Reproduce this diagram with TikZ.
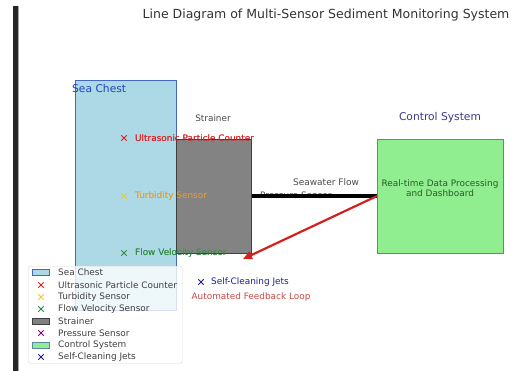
\documentclass[tikz,border=0pt]{standalone}
\usepackage{fontspec}
\setmainfont{DejaVu Sans}
\usetikzlibrary{shapes.misc,arrows.meta}
\definecolor{seafill}{HTML}{ADD8E6}
\definecolor{seaedge}{HTML}{4466C8}
\definecolor{seatext}{HTML}{2244C0}
\definecolor{strfill}{HTML}{808080}
\definecolor{stredge}{HTML}{404040}
\definecolor{ctlfill}{HTML}{90EE90}
\definecolor{ctledge}{HTML}{5A86A8}
\definecolor{ctltext}{HTML}{3A3A8C}
\definecolor{inntext}{HTML}{2A5A2A}
\definecolor{ured}{HTML}{D62020}
\definecolor{turbm}{HTML}{E8C840}
\definecolor{turbt}{HTML}{E8A030}
\definecolor{flowg}{HTML}{2E8B3E}
\definecolor{presp}{HTML}{800080}
\definecolor{jetn}{HTML}{1E1E90}
\definecolor{fbred}{HTML}{C84848}
\tikzset{
  mk/.style={cross out, draw=#1, line width=0.9pt, minimum size=4.5pt, inner sep=0pt},
  lbl/.style={font=\fontsize{8.9}{10}\selectfont, inner sep=0pt, anchor=west},
  big/.style={font=\fontsize{10.7}{12}\selectfont, inner sep=0pt},
  leg/.style={font=\fontsize{8.9}{10}\selectfont, inner sep=0pt, anchor=west, text=black!75},
  patch/.style={minimum width=17pt, minimum height=6pt, inner sep=0pt, line width=0.8pt}
}
\begin{document}
\begin{tikzpicture}[x=1pt,y=-1pt]
\useasboundingbox (0,0) rectangle (513,371);
\fill[white] (0,0) rectangle (513,371);
% left bar
\fill[black!85] (13,6) rectangle (18,371);
\fill[black!35] (18,6) rectangle (19,371);
% title
\node[font=\fontsize{12.5}{14}\selectfont, text=black!80, inner sep=0pt] (title) at (326,15) {Line Diagram of Multi-Sensor Sediment Monitoring System};
% sea chest
\node[draw=seaedge, fill=seafill, line width=0.8pt, minimum width=101pt, minimum height=230pt, inner sep=0pt, anchor=north west] (sea) at (75,80) {};
\node[big, text=seatext, anchor=west] (sealbl) at (72,89) {Sea Chest};
% sensor markers & labels
\node[mk=ured] (m1) at (124,138) {};
\node[lbl, text=ured] (t1) at (135,138) {Ultrasonic Particle Counter};
\node[mk=turbm] (m2) at (124,196) {};
\node[lbl, text=turbt] (t2) at (135,196) {Turbidity Sensor};
\node[mk=flowg] (m3) at (124,253) {};
\node[lbl, text=flowg] (t3) at (135,253) {Flow Velocity Sensor};
% strainer
\node[draw=stredge, fill=strfill, fill opacity=0.97, line width=0.8pt, minimum width=75pt, minimum height=114pt, inner sep=0pt, anchor=north west] (str) at (176,139) {};
\node[lbl, anchor=center, text=black!70] (strlbl) at (213,118) {Strainer};
% labels overlapping strainer drawn again on top (partly visible)
\node[lbl, text=turbt] at (135,196) {Turbidity Sensor};
\node[lbl, text=ured, opacity=0.8] at (135,138) {Ultrasonic Particle Counter};
\node[lbl, text=flowg, opacity=0.8] at (135,253) {Flow Velocity Sensor};
% control system
\node[draw=ctledge, fill=ctlfill, line width=0.8pt, minimum width=126pt, minimum height=114pt, inner sep=0pt, anchor=north west] (ctl) at (377,139) {};
\node[big, text=ctltext] (ctllbl) at (440,118) {Control System};
\node[font=\fontsize{8.9}{10.5}\selectfont, text=inntext, align=center, inner sep=0pt] (inner) at (440,188) {Real-time Data Processing\\and Dashboard};
% pressure sensor (hidden behind flow line)
\node[lbl, text=black!70] (ptxt) at (260,195.5) {Pressure Sensor};
% seawater flow line
\draw[black, line width=3.2pt] (str.east |- 0,196) -- (ctl.west |- 0,196);
\node[font=\fontsize{9}{10}\selectfont, text=black!70, inner sep=0pt] (flowlbl) at (326,182) {Seawater Flow};
% feedback arrow
\coordinate (fbend) at (243,259);
\draw[ured, line width=2.2pt, -{Triangle[length=9pt,width=8pt]}] (ctl.west |- 0,196) -- (fbend);
% self-cleaning jets
\node[mk=jetn] (mj) at (201,282) {};
\node[lbl, text=jetn] (tj) at (211,282) {Self-Cleaning Jets};
\node[font=\fontsize{8.9}{10}\selectfont, text=fbred, inner sep=0pt] (fbl) at (251,297) {Automated Feedback Loop};
% legend
\node[draw=black!15, fill=white, fill opacity=0.8, rounded corners=2pt, minimum width=154pt, minimum height=97pt, inner sep=0pt, anchor=north west] (legend) at (28,266) {};
\node[patch, draw=seaedge, fill=seafill] (p1) at (41,272) {};
\node[leg] (l1) at (58,272) {Sea Chest};
\node[mk=ured] (p2) at (41,285) {};
\node[leg] (l2) at (58,285) {Ultrasonic Particle Counter};
\node[mk=turbm] (p3) at (41,297) {};
\node[leg] (l3) at (58,297) {Turbidity Sensor};
\node[mk=flowg] (p4) at (41,309) {};
\node[leg] (l4) at (58,309) {Flow Velocity Sensor};
\node[patch, draw=stredge, fill=strfill] (p5) at (41,321) {};
\node[leg] (l5) at (58,321) {Strainer};
\node[mk=presp] (p6) at (41,333) {};
\node[leg] (l6) at (58,333) {Pressure Sensor};
\node[patch, draw=ctledge, fill=ctlfill] (p7) at (41,345) {};
\node[leg] (l7) at (58,345) {Control System};
\node[mk=jetn] (p8) at (41,357) {};
\node[leg] (l8) at (58,357) {Self-Cleaning Jets};
\end{tikzpicture}
\end{document}
